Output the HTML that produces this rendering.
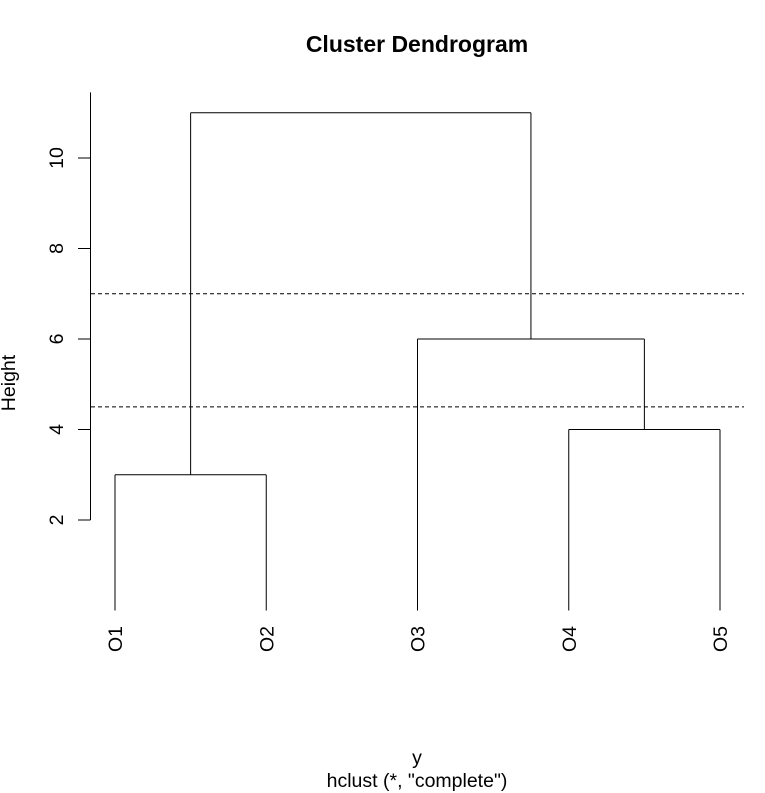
<!DOCTYPE html>
<html><head><meta charset="utf-8"><style>
html,body{margin:0;padding:0;background:#fff}
svg{display:block;font-family:"Liberation Sans",Arial,sans-serif}
</style></head><body>
<svg id="chart" width="765" height="793" viewBox="0 0 765 793">
<text x="417" y="52" text-anchor="middle" font-size="23" font-weight="bold">Cluster Dendrogram</text>
<text transform="translate(15,383) rotate(-90)" text-anchor="middle" font-size="19.5">Height</text>
<text x="417" y="764" text-anchor="middle" font-size="19.5">y</text>
<text x="417" y="787" text-anchor="middle" font-size="19.5">hclust (*, "complete")</text>
<g id="axis"></g>
<g id="tree"></g>
<g id="cuts"></g>
<g id="labels"></g>
</svg>
<script>
const leaves = ["O1","O2","O3","O4","O5"];
const yTicks = [2,4,6,8,10];
const cutHeights = [7,4.5];
// merges: [left, right, height]; negative = leaf index (1-based), positive = merge index (1-based)
const mergeLeft = [-1,-4,-3,1];
const mergeRight = [-2,-5,2,3];
const mergeHeight = [3,4,6,11];
const yMax = 11.45;

const NS="http://www.w3.org/2000/svg";
const x0=115, dx=151.25;
const yScale=v=>610.5-v*45.25;
const xScale=i=>x0+i*dx;
function line(g,x1,y1,x2,y2,name,dash){
  const l=document.createElementNS(NS,"line");
  l.setAttribute("x1",x1);l.setAttribute("y1",y1);l.setAttribute("x2",x2);l.setAttribute("y2",y2);
  l.setAttribute("stroke","#000");l.setAttribute("stroke-width","1");
  if(dash)l.setAttribute("stroke-dasharray",dash);
  
  
  g.appendChild(l);return l;
}
function text(g,x,y,s,rot,anchor,name){
  const t=document.createElementNS(NS,"text");
  t.setAttribute("transform",`translate(${x},${y}) rotate(${rot})`);
  t.setAttribute("text-anchor",anchor);t.setAttribute("font-size","19.5");
  t.textContent=s;
  
  
  g.appendChild(t);
}
const ax=document.getElementById("axis");
line(ax,90.5,yScale(yTicks[0]),90.5,yScale(yMax),"y-axis-line");
yTicks.forEach(v=>{
  line(ax,78,yScale(v),90.5,yScale(v),"y-tick-"+v);
  text(ax,63,yScale(v),String(v),-90,"middle","y-tick-label-"+v);
});
const pos=[];
function nodePos(id){
  if(id<0) return {x:xScale(-id-1),h:0};
  return pos[id-1];
}
const tr=document.getElementById("tree");
for(let k=0;k<mergeHeight.length;k++){
  const a=nodePos(mergeLeft[k]), b=nodePos(mergeRight[k]), h=mergeHeight[k];
  const y=yScale(h);
  line(tr,a.x,yScale(a.h),a.x,y,"branch-"+(k+1)+"-left");
  line(tr,a.x,y,b.x,y,"merge-"+(k+1));
  line(tr,b.x,yScale(b.h),b.x,y,"branch-"+(k+1)+"-right");
  pos.push({x:(a.x+b.x)/2,h:h});
}
const cg=document.getElementById("cuts");
cutHeights.forEach((h,i)=>line(cg,91,yScale(h),744,yScale(h),"cut-line-"+(i+1),"4,3"));
const lg=document.getElementById("labels");
leaves.forEach((s,i)=>text(lg,xScale(i)+7,626,s,-90,"end","leaf-label-"+s));
</script>
</body></html>
